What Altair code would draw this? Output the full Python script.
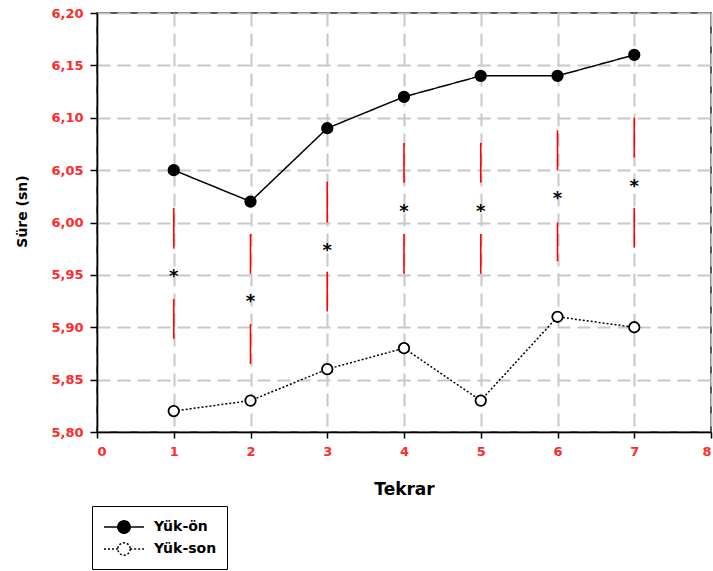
import altair as alt
import pandas as pd

# ---- data ----
tekrar = [1, 2, 3, 4, 5, 6, 7]
yuk_on = [6.05, 6.02, 6.09, 6.12, 6.14, 6.14, 6.16]
yuk_son = [5.82, 5.83, 5.86, 5.88, 5.83, 5.91, 5.90]
series_names = ["Yük-ön", "Yük-son"]

# red significance bars (upper/lower pieces) and asterisk positions
upper_top = [6.014, 5.989, 6.039, 6.076, 6.076, 6.088, 6.100]
upper_bot = [5.975, 5.951, 6.000, 6.038, 6.038, 6.050, 6.062]
star_y = [5.953, 5.929, 5.978, 6.015, 6.015, 6.027, 6.039]
lower_top = [5.927, 5.903, 5.953, 5.989, 5.989, 6.000, 6.014]
lower_bot = [5.889, 5.865, 5.915, 5.951, 5.951, 5.963, 5.976]

x_ticks = [0, 1, 2, 3, 4, 5, 6, 7, 8]
y_ticks = [5.80, 5.85, 5.90, 5.95, 6.00, 6.05, 6.10, 6.15, 6.20]

# ---- tables ----
df = pd.DataFrame({
    "tekrar": tekrar * 2,
    "sure": yuk_on + yuk_son,
    "seri": [series_names[0]] * len(tekrar) + [series_names[1]] * len(tekrar),
})
seg = pd.DataFrame({
    "tekrar": tekrar,
    "ut": upper_top, "ub": upper_bot,
    "lt": lower_top, "lb": lower_bot,
    "star": star_y,
})

FONT = "DejaVu Sans"
RED = "#ff2a2a"

xscale = alt.Scale(domain=[0, 8], nice=False, zero=False)
yscale = alt.Scale(domain=[5.80, 6.20], nice=False, zero=False)

xaxis = alt.Axis(values=x_ticks, title="Tekrar", labelColor=RED, labelFont=FONT,
                 labelFontWeight="bold", labelFontSize=13, labelPadding=7,
                 tickColor="black", tickSize=6, tickWidth=1.5,
                 domainColor="black", domainWidth=1.5,
                 grid=True, gridColor="#c8c8c8", gridDash=[13, 7], gridWidth=2,
                 titleFont=FONT, titleFontSize=17, titleFontWeight="bold",
                 titleColor="black", titlePadding=23)
yaxis = alt.Axis(values=y_ticks, title="Süre (sn)", labelColor=RED, labelFont=FONT,
                 labelFontWeight="bold", labelFontSize=13, labelPadding=7,
                 labelExpr="replace(format(datum.value, '.2f'), '.', ',')",
                 tickColor="black", tickSize=7, tickWidth=1.5,
                 domainColor="black", domainWidth=1.5,
                 grid=True, gridColor="#c8c8c8", gridDash=[13, 7], gridWidth=2,
                 titleFont=FONT, titleFontSize=14, titleFontWeight="bold",
                 titleColor="black", titlePadding=21, titleY=198)

sym_path = "M-2,0H-0.62M0.62,0H2M0.62,0A0.62,0.62,0,1,1,-0.62,0A0.62,0.62,0,1,1,0.62,0Z"
leg = alt.Legend(title=None, orient="none", legendX=-5, legendY=493,
                 symbolType=sym_path, symbolSize=400, symbolStrokeWidth=1.5,
                 symbolStrokeColor="black", symbolOffset=11, labelOffset=19,
                 padding=10, rowPadding=1, strokeColor="black",
                 labelFont=FONT, labelFontSize=14, labelFontWeight="bold",
                 labelColor="black", fillColor="white")

X = alt.X("tekrar:Q", scale=xscale, axis=xaxis)

lines = alt.Chart(df).mark_line(color="black", strokeWidth=1.5).encode(
    x=X,
    y=alt.Y("sure:Q", scale=yscale, axis=yaxis),
    strokeDash=alt.StrokeDash("seri:N",
                              scale=alt.Scale(domain=series_names, range=[[1, 0], [2, 2]]),
                              legend=leg),
)

points = alt.Chart(df).mark_point(shape="circle", filled=True, size=110, stroke="black",
                                  strokeWidth=1.8, opacity=1).encode(
    x=X,
    y=alt.Y("sure:Q", scale=yscale, axis=yaxis),
    fill=alt.Fill("seri:N", scale=alt.Scale(domain=series_names, range=["black", "white"]),
                  legend=leg),
)

upper = alt.Chart(seg).mark_rule(color="#ff0000", strokeWidth=1.6).encode(
    x=X, y=alt.Y("ut:Q", scale=yscale, axis=yaxis), y2="ub:Q")
lower = alt.Chart(seg).mark_rule(color="#ff0000", strokeWidth=1.6).encode(
    x=X, y=alt.Y("lt:Q", scale=yscale, axis=yaxis), y2="lb:Q")
stars = alt.Chart(seg).mark_text(text="*", font=FONT, fontSize=18, fontWeight="bold",
                                 color="black", baseline="alphabetic", dy=10).encode(
    x=X, y=alt.Y("star:Q", scale=yscale, axis=yaxis))

chart = alt.layer(lines, upper, lower, stars, points).properties(
    width=614, height=419,
    autosize=alt.AutoSizeParams(type="none"),
    padding={"left": 97, "top": 13, "right": 2, "bottom": 139},
    background="white",
).configure_view(stroke="#222222", strokeWidth=1.5)

chart.save("out.html", embed_options={"renderer": "svg", "actions": False})
